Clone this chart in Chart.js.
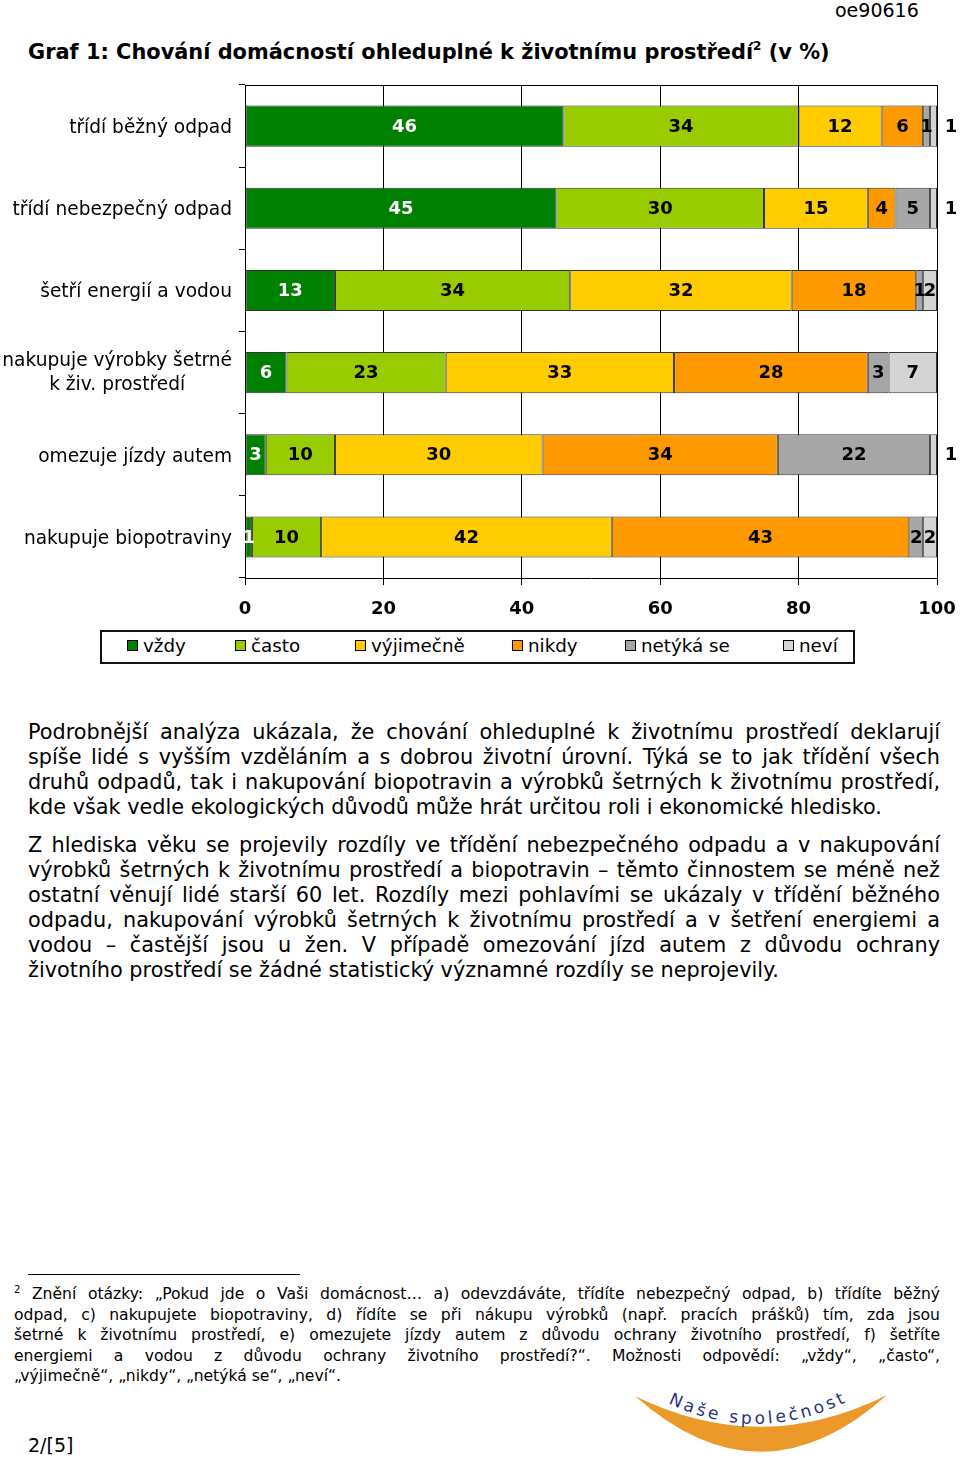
<!DOCTYPE html>
<html lang="cs">
<head>
<meta charset="utf-8">
<title>Graf 1</title>
<script src="https://cdn.jsdelivr.net/npm/chart.js@4.4.1/dist/chart.umd.min.js"></script>
<style>
    html, body { margin: 0; padding: 0; background: #fff; }
    body { width: 960px; height: 1459px; position: relative; overflow: hidden; font-family: "DejaVu Sans", Verdana, sans-serif; color: #000; }
    #code { position: absolute; left: 835px; top: -1px; font-size: 19px; }
    #title { position: absolute; left: 28px; top: 40px; font-size: 20.9px; font-weight: bold; white-space: nowrap; }
    #title sup { font-size: 12px; vertical-align: 9px; line-height: 0; }
    #chartBox { position: absolute; left: 0; top: 80px; }
    #legend { position: absolute; left: 100px; top: 630px; width: 751px; height: 30px; border: 2px solid #111; }
    .lg { position: absolute; top: 3px; font-size: 18.3px; white-space: nowrap; }
    .lg i { display: inline-block; width: 9px; height: 9px; border: 1px solid #000; margin-right: 5px; vertical-align: 1px; }
    .para { position: absolute; left: 28px; width: 912px; font-size: 20.8px; line-height: 25px; }
    .para div, .foot div { text-align: justify; text-align-last: justify; white-space: nowrap; }
    .para div.last, .foot div.last { text-align-last: left; }
    #p1 { top: 720px; }
    #p2 { top: 833px; }
    #rule { position: absolute; left: 28px; top: 1274px; width: 272px; border-top: 1px solid #000; }
    .foot { position: absolute; left: 14px; top: 1284px; width: 926px; font-size: 15.6px; line-height: 20.6px; }
    .foot sup { font-size: 10px; vertical-align: 6px; line-height: 0; }
    #page { position: absolute; left: 28px; top: 1434px; font-size: 19px; }
    #logo { position: absolute; left: 600px; top: 1370px; }
</style>
</head>
<body>
<div id="code">oe90616</div>
<div id="title">Graf 1: Chování domácností ohleduplné k životnímu prostředí<sup>2</sup> (v %)</div>

<div id="chartBox"><canvas id="chart" width="960" height="550"></canvas></div>

<div id="legend"></div>

<div class="para" id="p1">
    <div>Podrobnější analýza ukázala, že chování ohleduplné k životnímu prostředí deklarují</div>
    <div>spíše lidé s vyšším vzděláním a s dobrou životní úrovní. Týká se to jak třídění všech</div>
    <div>druhů odpadů, tak i nakupování biopotravin a výrobků šetrných k životnímu prostředí,</div>
    <div class="last">kde však vedle ekologických důvodů může hrát určitou roli i ekonomické hledisko.</div>
</div>
<div class="para" id="p2">
    <div>Z hlediska věku se projevily rozdíly ve třídění nebezpečného odpadu a v nakupování</div>
    <div>výrobků šetrných k životnímu prostředí a biopotravin – těmto činnostem se méně než</div>
    <div>ostatní věnují lidé starší 60 let. Rozdíly mezi pohlavími se ukázaly v třídění běžného</div>
    <div>odpadu, nakupování výrobků šetrných k životnímu prostředí a v šetření energiemi a</div>
    <div>vodou – častější jsou u žen. V případě omezování jízd autem z důvodu ochrany</div>
    <div class="last">životního prostředí se žádné statistický významné rozdíly se neprojevily.</div>
</div>

<div id="rule"></div>
<div class="foot">
    <div><sup>2</sup> Znění otázky: „Pokud jde o Vaši domácnost… a) odevzdáváte, třídíte nebezpečný odpad, b) třídíte běžný</div>
    <div>odpad, c) nakupujete biopotraviny, d) řídíte se při nákupu výrobků (např. pracích prášků) tím, zda jsou</div>
    <div>šetrné k životnímu prostředí, e) omezujete jízdy autem z důvodu ochrany životního prostředí, f) šetříte</div>
    <div>energiemi a vodou z důvodu ochrany životního prostředí?“. Možnosti odpovědí: „vždy“, „často“,</div>
    <div class="last">„výjimečně“, „nikdy“, „netýká se“, „neví“.</div>
</div>

<div id="page">2/[5]</div>

<svg id="logo" width="300" height="89" viewBox="600 1370 300 89">
    <path d="M635,1396 Q761,1508 887,1395 Q761,1458 635,1396 Z" fill="#eb9a2a"/>
    <path id="arc" d="M668,1403 Q762,1448 858,1396" fill="none"/>
    <text font-family="DejaVu Sans" font-size="17" fill="#27337a" letter-spacing="3.2">
        <textPath href="#arc">Naše společnost</textPath>
    </text>
</svg>

<script>
const categories = [
    'třídí běžný odpad',
    'třídí nebezpečný odpad',
    'šetří energií a vodou',
    ['nakupuje výrobky šetrné', 'k živ. prostředí'],
    'omezuje jízdy autem',
    'nakupuje biopotraviny'
];
const seriesNames = ['vždy', 'často', 'výjimečně', 'nikdy', 'netýká se', 'neví'];
const vzdy      = [46, 45, 13, 6, 3, 1];
const casto     = [34, 30, 34, 23, 10, 10];
const vyjimecne = [12, 15, 32, 33, 30, 42];
const nikdy     = [6, 4, 18, 28, 34, 43];
const netykaSe  = [1, 5, 1, 3, 22, 2];
const nevi      = [1, 1, 2, 7, 1, 2];
const xTicks = [0, 20, 40, 60, 80, 100];

const colors = ['#008000', '#99cc00', '#ffcc00', '#ff9900', '#a6a6a6', '#d4d4d4'];
const legendLeft = [127, 235, 355, 512, 625, 783];

// legend (html, fixed positions like the original)
const legend = document.getElementById('legend');
seriesNames.forEach((name, i) => {
    const item = document.createElement('span');
    item.className = 'lg';
    item.style.left = (legendLeft[i] - 102) + 'px';
    item.innerHTML = `<i style="background:${colors[i]}"></i>${name}`;
    legend.appendChild(item);
});

const FONT = '"DejaVu Sans", Verdana, sans-serif';

// values on bars, top frame line and y labels
const decorPlugin = {
    id: 'decor',
    afterDraw(chart) {
        const ctx = chart.ctx;
        const area = chart.chartArea;
        ctx.save();
        ctx.strokeStyle = '#000';
        ctx.lineWidth = 1;
        ctx.beginPath();
        ctx.moveTo(area.left, area.top + 0.5);
        ctx.lineTo(area.right, area.top + 0.5);
        ctx.stroke();

        ctx.font = 'bold 18px ' + FONT;
        ctx.textBaseline = 'middle';
        ctx.textAlign = 'center';
        const last = chart.data.datasets.length - 1;
        chart.data.datasets.forEach((ds, di) => {
            const meta = chart.getDatasetMeta(di);
            meta.data.forEach((bar, i) => {
                const v = ds.data[i];
                let x = (bar.x + bar.base) / 2;
                if (di === last && v < 2) x = area.right + 14;
                ctx.fillStyle = di === 0 ? '#fff' : '#000';
                ctx.fillText(String(v), x, bar.y + 1);
            });
        });

        const yScale = chart.scales.y;
        ctx.font = '18.6px ' + FONT;
        ctx.fillStyle = '#000';
        categories.forEach((label, i) => {
            const y = yScale.getPixelForTick(i);
            const right = yScale.right - 13;
            if (Array.isArray(label)) {
                const w = ctx.measureText(label[0]).width;
                const cx = right - w / 2;
                ctx.textAlign = 'center';
                ctx.fillText(label[0], cx, y - 11);
                ctx.fillText(label[1], cx, y + 13);
            } else {
                ctx.textAlign = 'right';
                ctx.fillText(label, right, y + 2);
            }
        });
        ctx.restore();
    }
};

const seriesData = [vzdy, casto, vyjimecne, nikdy, netykaSe, nevi];

new Chart(document.getElementById('chart'), {
    type: 'bar',
    data: {
        labels: categories,
        datasets: seriesNames.map((name, i) => ({
            label: name,
            data: seriesData[i],
            backgroundColor: colors[i],
            borderColor: '#333',
            borderWidth: 1,
            borderSkipped: false,
            categoryPercentage: 1,
            barPercentage: 0.5
        }))
    },
    options: {
        indexAxis: 'y',
        responsive: false,
        animation: false,
        devicePixelRatio: 1,
        layout: { padding: { top: 5, right: 23, left: 0, bottom: 0 } },
        plugins: { legend: { display: false }, tooltip: { enabled: false } },
        scales: {
            x: {
                stacked: true,
                min: 0,
                max: 100,
                afterBuildTicks: scale => { scale.ticks = xTicks.map(v => ({ value: v })); },
                afterFit: scale => {
                    scale.height = 52;
                    scale.paddingLeft = 0;
                    scale.paddingRight = 0;
                },
                grid: { color: '#000', lineWidth: 1, tickLength: 7, tickColor: '#000' },
                border: { color: '#000' },
                ticks: { color: '#000', padding: 14, font: { family: FONT, size: 18, weight: 'bold' } }
            },
            y: {
                stacked: true,
                afterFit: scale => { scale.width = 245; },
                grid: { offset: true, drawOnChartArea: false, tickLength: 6, tickColor: '#000' },
                border: { color: '#000' },
                ticks: { display: false }
            }
        }
    },
    plugins: [decorPlugin]
});
</script>
</body>
</html>
